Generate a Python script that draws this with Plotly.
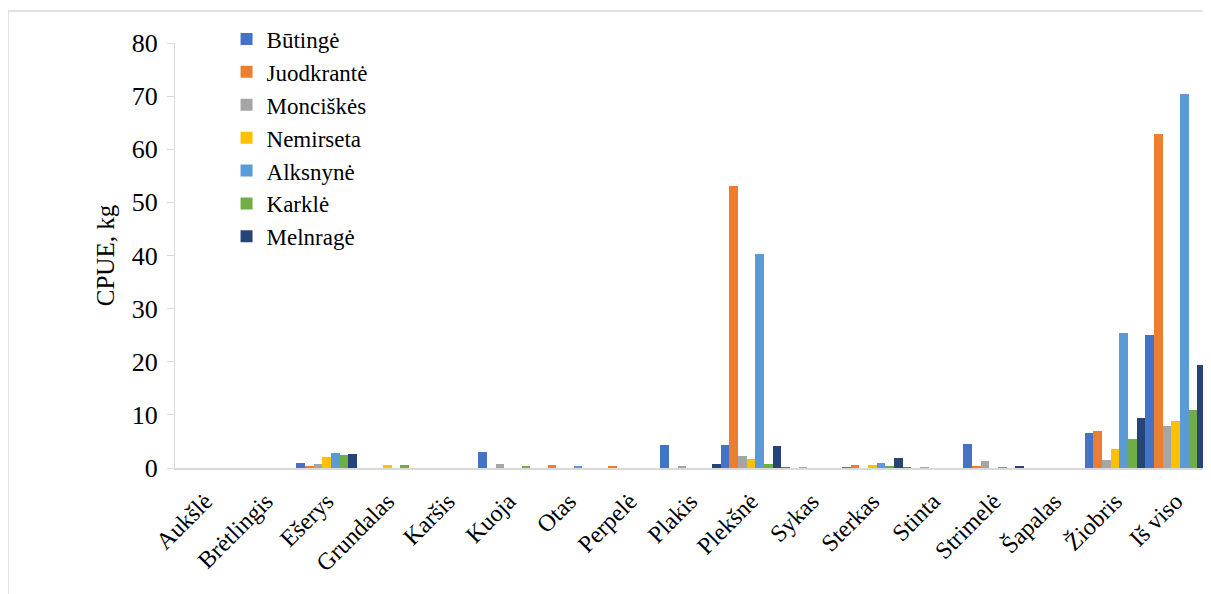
import plotly.graph_objects as go

categories = ["Aukšlė", "Brėtlingis", "Ešerys", "Grundalas", "Karšis", "Kuoja", "Otas",
              "Perpelė", "Plakis", "Plekšnė", "Sykas", "Sterkas", "Stinta", "Strimelė",
              "Šapalas", "Žiobris", "Iš viso"]

butinge     = [0, 0, 0.9, 0, 0, 3.1, 0, 0, 4.3, 4.4, 0.1, 0.15, 0.1, 4.45, 0, 6.6, 25.0]
juodkrante  = [0, 0, 0.45, 0, 0, 0, 0.65, 0.2, 0, 53.1, 0, 0.6, 0, 0.4, 0, 7.0, 62.8]
monciskes   = [0, 0, 0.8, 0, 0, 0.7, 0, 0, 0.25, 2.3, 0.1, 0, 0.1, 1.35, 0, 1.5, 7.85]
nemirseta   = [0, 0, 2.1, 0.55, 0, 0, 0, 0, 0, 1.7, 0, 0.5, 0, 0, 0, 3.6, 8.85]
alksnyne    = [0, 0, 2.9, 0, 0, 0, 0.4, 0, 0, 40.2, 0, 1.0, 0, 0.1, 0, 25.5, 70.4]
karkle      = [0, 0, 2.5, 0.6, 0, 0.4, 0, 0, 0, 0.8, 0, 0.25, 0, 0, 0, 5.5, 11.0]
melnrage    = [0, 0, 2.7, 0, 0, 0, 0, 0, 0.75, 4.1, 0, 1.9, 0, 0.25, 0, 9.35, 19.45]

series = [
    ("Būtingė", butinge, "#4472C4"),
    ("Juodkrantė", juodkrante, "#ED7D31"),
    ("Monciškės", monciskes, "#A5A5A5"),
    ("Nemirseta", nemirseta, "#FFC000"),
    ("Alksnynė", alksnyne, "#5B9BD5"),
    ("Karklė", karkle, "#70AD47"),
    ("Melnragė", melnrage, "#264478"),
]

FONT = "Liberation Serif"

fig = go.Figure()
for name, vals, color in series:
    fig.add_trace(go.Bar(
        x=categories, y=vals, name=name,
        marker=dict(color=color, line=dict(width=0)),
    ))

# page has an 8px body margin, so the figure is offset by 8px
fig.update_layout(
    width=1203, height=586,
    paper_bgcolor="white", plot_bgcolor="white",
    margin=dict(l=167, r=5, t=35, b=126, autoexpand=False),
    barmode="group", bargap=0, bargroupgap=0,
    font=dict(family=FONT, color="black", size=22),
    showlegend=True,
    legend=dict(
        x=0.05, y=1.06, xanchor="left", yanchor="top",
        font=dict(family=FONT, size=23, color="black"),
        bgcolor="rgba(0,0,0,0)", traceorder="normal",
        itemwidth=30,
    ),
    xaxis=dict(
        showline=True, linecolor="#d9d9d9", linewidth=1.5,
        ticks="", tickangle=-45, showgrid=False, automargin=False,
        tickfont=dict(family=FONT, size=24, color="black"),
        ticklabelstandoff=8,
    ),
    yaxis=dict(
        range=[0, 80], dtick=10, showline=True, linecolor="#d9d9d9", linewidth=1,
        ticks="outside", ticklen=7, tickcolor="#d9d9d9", showgrid=False,
        automargin=False,
        tickfont=dict(family=FONT, size=26, color="black"),
        ticklabelstandoff=4,
        title=dict(text="CPUE, kg", font=dict(family=FONT, size=25, color="black"), standoff=10),
        zeroline=False,
    ),
)

fig.add_shape(type="rect", xref="paper", yref="paper",
              x0=-0.162, x1=1.01, y0=-0.32, y1=1.0753,
              line=dict(color="#d9d9d9", width=1.5), fillcolor="rgba(0,0,0,0)", layer="below")

fig.write_html("out.html")
